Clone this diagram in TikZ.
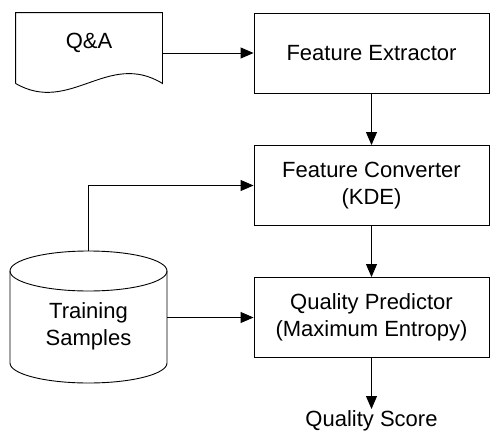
\documentclass[tikz,border=0pt]{standalone}
\usepackage{fontspec}
\setmainfont{Liberation Sans}
\usetikzlibrary{arrows.meta}
\begin{document}
\begin{tikzpicture}[x=1pt,y=-1pt,
  line width=0.9pt,
  font=\fontsize{22}{26.5}\selectfont,
  procbox/.style={draw, minimum width=235pt, minimum height=80pt, inner sep=0pt, align=center},
  plain/.style={inner sep=0pt, align=center},
  arr/.style={-{Triangle[length=13pt,width=11pt]}}]
\useasboundingbox (0,0) rectangle (490,434);

% process boxes
\node[procbox] (fe) at (371.5,53) {Feature Extractor};
\node[procbox] (fc) at (371.5,185.5) {Feature Converter\\(KDE)};
\node[procbox] (qp) at (371.5,317.5) {Quality Predictor\\(Maximum Entropy)};
\node[plain, anchor=north, inner sep=1pt] (qs) at (371.5,409) {Quality Score};

% document Q&A
\node[plain, minimum width=146pt, minimum height=70pt] (qa) at (89,48) {};
\node[plain] (qatext) at (89,43) {Q\&A};
\draw (qa.south west) -- (qa.north west) -- (qa.north east) -- (qa.south east)
  .. controls (108,50) and (70,115) .. (qa.south west);

% database Training Samples
\coordinate (dbtop) at (88.5,251);
\coordinate (dbright) at (167,318);
\node[plain] (ts) at (88.5,326.5) {Training\\Samples};
\draw (10,271) arc[start angle=180, end angle=-180, x radius=78.5, y radius=20];
\draw (10,271) -- (10,363) arc[start angle=180, end angle=360, x radius=78.5, y radius=-20] -- (167,271);

% connectors
\draw[arr] (qa.east |- fe.west) -- (fe.west);
\draw[arr] (fe.south) -- (fc.north);
\draw[arr] (fc.south) -- (qp.north);
\draw[arr] (qp.south) -- (qs.north);
\draw[arr] (dbtop) |- (fc.west);
\draw[arr] (dbright |- qp.west) -- (qp.west);
\end{tikzpicture}
\end{document}
